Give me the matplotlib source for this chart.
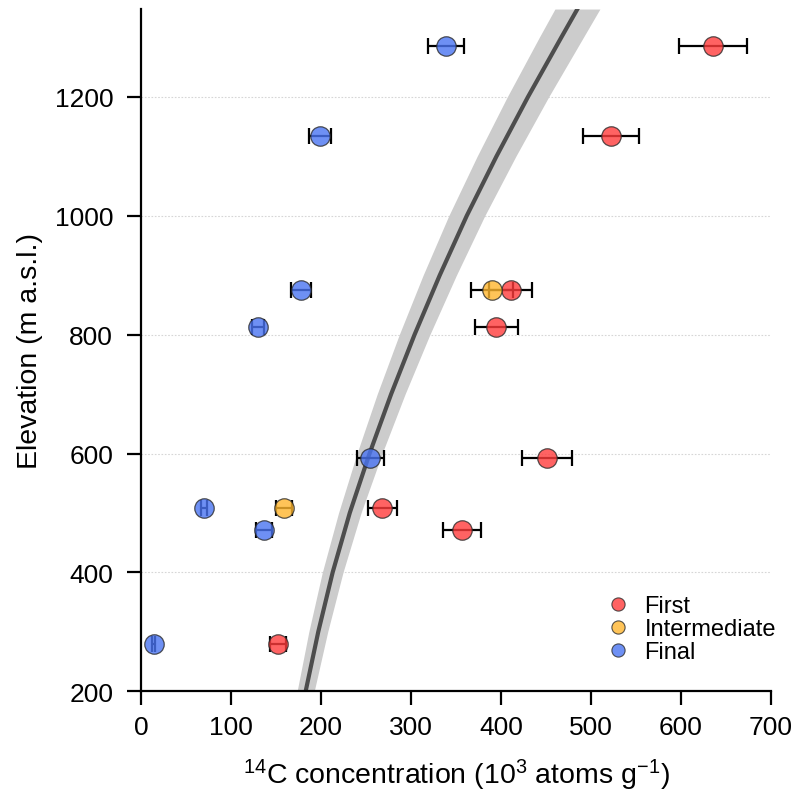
import matplotlib
matplotlib.use("Agg")
import matplotlib.pyplot as plt
from matplotlib.lines import Line2D

plt.rcParams["font.family"] = ["Liberation Sans", "DejaVu Sans"]
plt.rcParams["mathtext.default"] = "regular"

# 14C concentration (10^3 atoms/g), elevation (m a.s.l.), 1-sigma error
first_c = [636, 522, 411, 395, 451, 268, 357, 152]
first_z = [1286, 1135, 875, 813, 592, 509, 471, 279]
first_e = [38, 31, 24, 24, 28, 16, 21, 9]

inter_c = [390, 159]
inter_z = [875, 509]
inter_e = [23, 9]

final_c = [339, 199, 178, 130, 255, 70, 137, 14]
final_z = [1286, 1135, 875, 813, 592, 509, 471, 279]
final_e = [20, 12, 11, 7, 15, 3.5, 9, 2]

# production curve, with its band half-width
curve_z = [200, 300, 400, 500, 600, 700, 800, 900, 1000, 1100, 1200, 1300, 1348]
curve_c = [183, 197, 213, 232, 254, 278, 304, 332, 362, 395, 430, 467, 485]
curve_w = [9.5, 10.5, 11.5, 12.5, 14, 15.5, 17, 18.5, 20, 21.5, 23, 24.5, 25]

RED = "#ff3c3c"; YEL = "#ffb62e"; BLU = "#4a74f2"; EDGE = "#2a2a2a"

fig = plt.figure(figsize=(7.98, 8.03), dpi=100)
ax = fig.add_axes([0.1767, 0.138, 0.7893, 0.8495])

for z in range(400, 1201, 200):
    ax.axhline(z, color="0.84", lw=0.8, ls=(0, (1.5, 1.5)), zorder=0)

lo = [c - w for c, w in zip(curve_c, curve_w)]
hi = [c + w for c, w in zip(curve_c, curve_w)]
ax.fill_betweenx(curve_z, lo, hi, color="0.80", lw=0, zorder=1)
ax.plot(curve_c, curve_z, color="0.30", lw=3.0, zorder=2, solid_joinstyle="round")

groups = [(first_c, first_z, first_e, RED, "First"),
          (inter_c, inter_z, inter_e, YEL, "Intermediate"),
          (final_c, final_z, final_e, BLU, "Final")]
for c, z, e, col, lab in groups:
    ax.errorbar(c, z, xerr=e, fmt="none", ecolor="black", elinewidth=1.6,
                capsize=5.5, capthick=1.6, zorder=3)
    ax.plot(c, z, "o", ms=14, mfc=col, mec=EDGE, mew=0.9, alpha=0.8,
            ls="none", zorder=4)

handles = [Line2D([], [], marker="o", ls="none", ms=9.5, mfc=col, mec=EDGE,
                  mew=0.8, alpha=0.8, label=lab) for _, _, _, col, lab in groups]
ax.legend(handles=handles, loc="lower right", bbox_to_anchor=(1.008, 0.041),
          frameon=False, fontsize=17, handletextpad=0.6, labelspacing=0.05,
          handlelength=1.0, borderpad=0, borderaxespad=0)

ax.set_xlim(0, 700)
ax.set_ylim(200, 1348)
ax.set_xticks(range(0, 701, 100))
ax.set_yticks(range(200, 1201, 200))
for s in ("top", "right"):
    ax.spines[s].set_visible(False)
for s in ("left", "bottom"):
    ax.spines[s].set_linewidth(1.6)
ax.tick_params(direction="out", length=10, width=1.6, labelsize=19, pad=7)
ax.tick_params(axis="y", pad=10)

ax.set_xlabel("$^{14}$C concentration (10$^{3}$ atoms g$^{-1}$)", fontsize=20.5, labelpad=13)
ax.set_ylabel("Elevation (m a.s.l.)", fontsize=20.5, labelpad=8)

fig.savefig("out.png", dpi=100)
